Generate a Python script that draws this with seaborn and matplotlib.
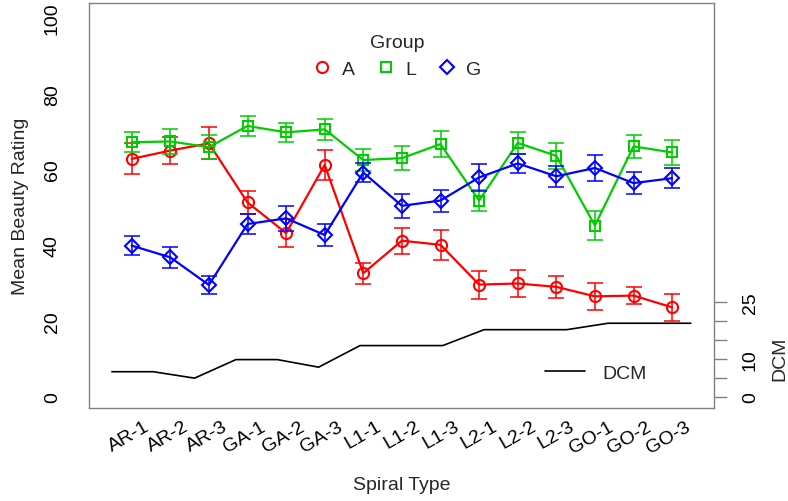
import numpy as np
import pandas as pd
import matplotlib
matplotlib.use("Agg")
import matplotlib.pyplot as plt
import matplotlib.transforms as mtransforms
from matplotlib.lines import Line2D
import seaborn as sns

# values
spiral_types = ["AR-1", "AR-2", "AR-3", "GA-1", "GA-2", "GA-3", "L1-1", "L1-2",
                "L1-3", "L2-1", "L2-2", "L2-3", "GO-1", "GO-2", "GO-3"]
groups = ["A", "L", "G"]
mean_a = [62.8, 65.0, 66.9, 51.3, 43.2, 61.2, 32.6, 41.2, 40.1, 29.6, 29.9, 29.0, 26.5, 26.7, 23.6]
err_a = [4.1, 3.5, 4.2, 3.1, 3.6, 4.0, 2.8, 3.4, 4.0, 3.7, 3.6, 2.9, 3.6, 2.3, 3.5]
mean_l = [67.2, 67.4, 65.9, 71.5, 69.8, 70.6, 62.5, 63.0, 66.7, 51.8, 67.0, 63.6, 45.2, 66.1, 64.5]
err_l = [2.7, 3.2, 3.1, 2.7, 2.6, 2.7, 2.8, 3.2, 3.4, 2.8, 2.8, 3.4, 3.8, 3.0, 3.3]
mean_g = [39.9, 36.8, 29.5, 45.6, 47.1, 42.7, 59.2, 50.4, 51.8, 57.9, 61.6, 58.2, 60.4, 56.4, 57.7]
err_g = [2.6, 2.7, 2.5, 2.6, 3.3, 2.8, 2.5, 3.1, 2.9, 3.5, 2.6, 2.8, 3.5, 3.0, 2.6]
dcm = [6.6, 6.6, 4.9, 9.8, 9.8, 7.8, 13.5, 13.5, 13.5, 17.7, 17.7, 17.7, 19.4, 19.4, 19.4]

colors = {"A": "#FF0000", "L": "#00CD00", "G": "#0000FF"}
markers = {"A": "o", "L": "s", "G": "D"}
msizes = {"A": 8, "L": 7, "G": 7.5}

sns.set_theme(style="white")
plt.rcParams["font.family"] = ["Liberation Sans", "DejaVu Sans"]
FS = 14
GRAY = "#808080"

x = np.arange(1, len(spiral_types) + 1)
df = pd.DataFrame({
    "x": np.tile(x, 3),
    "rating": mean_a + mean_l + mean_g,
    "se": err_a + err_l + err_g,
    "Group": np.repeat(groups, len(x)),
})

W, H = 788, 502
fig = plt.figure(figsize=(W / 100, H / 100), dpi=100)
pos = [88.7 / W, 1 - 408.5 / H, (714 - 88.7) / W, (408.5 - 3.7) / H]
ax = fig.add_axes(pos)

for g in groups:
    d = df[df["Group"] == g]
    c = colors[g]
    ax.errorbar(d["x"], d["rating"], yerr=d["se"], fmt="none", ecolor=c,
                elinewidth=1.1, capsize=6, capthick=1.1)
    sns.lineplot(data=d, x="x", y="rating", color=c, marker=markers[g],
                 markersize=msizes[g], mfc="none", mec=c, mew=1.5, lw=1.6,
                 estimator=None, legend=False, ax=ax)

ax.set_xlim(-0.114, 16.085)
ax.set_ylim(-2.85, 104.04)
ax.set_xticks(x)
ax.set_xticklabels(spiral_types)
ax.set_yticks(np.arange(0, 101, 20))
ax.set_xlabel("Spiral Type", fontsize=FS, labelpad=14)
ax.set_ylabel("Mean Beauty Rating", fontsize=FS, labelpad=11)
for s in ax.spines.values():
    s.set_color(GRAY)
    s.set_linewidth(1.0)
ax.tick_params(axis="both", direction="out", length=9, width=1.0, color=GRAY,
               labelsize=FS, labelcolor="black")
ax.tick_params(axis="y", pad=11)
ax.tick_params(axis="x", pad=3.5)
for lab in ax.get_yticklabels():
    lab.set_rotation(90)
    lab.set_va("center")
shift = mtransforms.ScaledTranslation(17 / 100, 0, fig.dpi_scale_trans)
for lab in ax.get_xticklabels():
    lab.set_rotation(30)
    lab.set_ha("right")
    lab.set_va("center")
    lab.set_rotation_mode("anchor")
    lab.set_transform(lab.get_transform() + shift)

# DCM on its own scale, right axis
ax2 = fig.add_axes(pos, frameon=False)
ax2.patch.set_alpha(0)
sns.lineplot(x=x, y=dcm, color="black", lw=1.2, estimator=None, legend=False, ax=ax2)
ax2.set_xlim(0.44, 15.56)
ax2.set_ylim(-2.85, 104.04)
ax2.set_xticks([])
ax2.set_xlabel("")
ax2.yaxis.tick_right()
ax2.yaxis.set_label_position("right")
ax2.set_yticks(np.arange(0, 26, 5))
ax2.set_yticklabels(["0", "", "10", "", "", "25"])
ax2.tick_params(axis="y", direction="out", length=9, width=1.0, color=GRAY,
                labelsize=FS, labelcolor="black", pad=11, right=True, left=False)
for lab in ax2.get_yticklabels():
    lab.set_rotation(90)
    lab.set_va("center")
ax2.set_ylabel("DCM", fontsize=FS)
ax2.yaxis.set_label_coords(1.091, (408.5 - 359) / (408.5 - 3.7))

ax2.legend(handles=[Line2D([], [], color="black", lw=1.2)], labels=["DCM"],
           loc="center left", bbox_to_anchor=(535 / W, 1 - 374 / H),
           bbox_transform=fig.transFigure, frameon=False, borderpad=0,
           handlelength=2.06, handletextpad=0.9, fontsize=FS)

handles = [Line2D([], [], ls="none", marker=markers[g], ms=msizes[g], mfc="none",
                  mec=colors[g], mew=1.5) for g in groups]
fig.legend(handles=handles, labels=groups, title="Group", ncol=3,
           loc="upper center", bbox_to_anchor=(397 / W, 1 - 25 / H),
           frameon=False, borderpad=0, fontsize=FS, title_fontsize=FS,
           handlelength=1.0, handletextpad=0.5, columnspacing=1.1)

fig.savefig("out.png", dpi=100)
